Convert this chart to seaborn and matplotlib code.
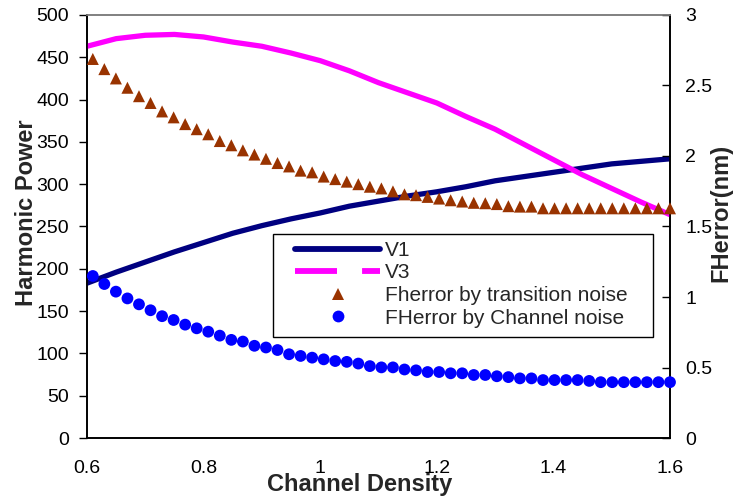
import numpy as np
import pandas as pd
import matplotlib
matplotlib.use("Agg")
import matplotlib.pyplot as plt
from matplotlib.lines import Line2D
from matplotlib.patches import Rectangle
import seaborn as sns

sns.set_theme(style="white")
plt.rcParams['font.family'] = ['Liberation Sans', 'DejaVu Sans']

# ---- data ----
line_x = [0.60, 0.65, 0.70, 0.75, 0.80, 0.85, 0.90, 0.95, 1.00, 1.05, 1.10,
          1.15, 1.20, 1.25, 1.30, 1.35, 1.40, 1.45, 1.50, 1.55, 1.60]
v1 = [183, 196, 208, 220, 231, 242, 251, 259, 266, 274, 280,
      286, 291, 297, 304, 309, 314, 319, 324, 327, 330]
v3 = [463, 472, 476, 477, 474, 468, 463, 455, 446, 434, 420,
      408, 396, 380, 365, 347, 329, 311, 295, 279, 264]

pt_x = list(np.round(np.linspace(0.61, 1.60, 51), 4))
fh_transition = [2.688, 2.616, 2.550, 2.484, 2.424, 2.376, 2.316, 2.274, 2.226, 2.190,
                 2.154, 2.106, 2.076, 2.040, 2.010, 1.980, 1.950, 1.926, 1.896, 1.884,
                 1.854, 1.836, 1.818, 1.800, 1.782, 1.770, 1.749, 1.728, 1.722, 1.710,
                 1.698, 1.686, 1.677, 1.668, 1.665, 1.659, 1.644, 1.641, 1.641, 1.629,
                 1.629, 1.629, 1.629, 1.629, 1.629, 1.629, 1.629, 1.629, 1.629, 1.629,
                 1.629]
fh_channel = [1.149, 1.092, 1.038, 0.990, 0.948, 0.906, 0.864, 0.837, 0.804, 0.778,
              0.754, 0.726, 0.696, 0.684, 0.654, 0.642, 0.624, 0.594, 0.582, 0.570,
              0.558, 0.546, 0.540, 0.528, 0.510, 0.501, 0.501, 0.486, 0.480, 0.468,
              0.468, 0.459, 0.459, 0.447, 0.447, 0.438, 0.432, 0.423, 0.423, 0.411,
              0.411, 0.411, 0.411, 0.405, 0.396, 0.396, 0.396, 0.396, 0.396, 0.396,
              0.396]

left_ticks = [0, 50, 100, 150, 200, 250, 300, 350, 400, 450, 500]
right_ticks = [0, 0.5, 1, 1.5, 2, 2.5, 3]
x_ticks = [0.6, 0.8, 1.0, 1.2, 1.4, 1.6]
x_ticklabels = ["0.6", "0.8", "1", "1.2", "1.4", "1.6"]
right_ticklabels = ["0", "0.5", "1", "1.5", "2", "2.5", "3"]

lines_df = pd.DataFrame({"x": line_x, "V1": v1, "V3": v3})
pts_df = pd.DataFrame({"x": pt_x, "trans": fh_transition, "chan": fh_channel})

NAVY = "#000080"
MAGENTA = "#FF00FF"
BROWN = "#993300"
BLUE = "#0000FF"

fig = plt.figure(figsize=(7.34, 4.99), dpi=100)
ax = fig.add_axes([0.1185, 0.1222, 0.7943, 0.8478])
ax2 = ax.twinx()

sns.lineplot(data=lines_df, x="x", y="V1", ax=ax, color=NAVY, lw=3.8, zorder=3)
sns.lineplot(data=lines_df, x="x", y="V3", ax=ax, color=MAGENTA, lw=3.8, zorder=3)
sns.scatterplot(data=pts_df, x="x", y="trans", ax=ax2, marker="^", color=BROWN,
                s=75, edgecolor="none", zorder=4, clip_on=False)
sns.scatterplot(data=pts_df, x="x", y="chan", ax=ax2, marker="o", color=BLUE,
                s=72, edgecolor="none", zorder=4, clip_on=False)

ax.set_xlim(0.6, 1.6)
ax.set_ylim(0, 500)
ax2.set_ylim(0, 3)
ax.set_xticks(x_ticks)
ax.set_xticklabels(x_ticklabels)
ax.set_yticks(left_ticks)
ax2.set_yticks(right_ticks)
ax2.set_yticklabels(right_ticklabels)

ax.tick_params(axis="x", direction="out", length=6, width=1, pad=10, labelsize=14, colors="black")
ax.tick_params(axis="y", direction="out", length=6, width=1, pad=7, labelsize=14, colors="black")
ax2.tick_params(axis="y", direction="in", length=6, width=1, pad=11, labelsize=14, colors="black")

for a in (ax, ax2):
    for s in ("left", "bottom", "right"):
        a.spines[s].set_color("black")
        a.spines[s].set_linewidth(1.2)
    a.spines["top"].set_color("#808080")
    a.spines["top"].set_linewidth(1.2)

ax.set_xlabel("Channel Density", fontsize=17, fontweight="bold")
ax.set_ylabel("Harmonic Power", fontsize=17, fontweight="bold")
ax2.set_ylabel("FHerror(nm)", fontsize=17, fontweight="bold")
ax.xaxis.set_label_coords(0.468, -0.083)
ax.yaxis.set_label_coords(-0.084, 0.532)
ax2.yaxis.set_label_coords(1.067, 0.532)

# legend frame (drawn as a box behind the legend entries)
frame = Rectangle((273 / 734, (499 - 337) / 499), 380 / 734, 103 / 499,
                  transform=fig.transFigure, facecolor="white", edgecolor="black",
                  linewidth=1.0, zorder=9, clip_on=False)
ax2.add_patch(frame)

handles = [
    Line2D([], [], color=NAVY, lw=4.2, solid_capstyle="round"),
    Line2D([], [], color=MAGENTA, lw=4.2, dashes=(7.2, 4.3), dash_capstyle="butt"),
    Line2D([], [], color=BROWN, marker="^", ls="none", markersize=8.5, markeredgewidth=0),
    Line2D([], [], color=BLUE, marker="o", ls="none", markersize=8.5, markeredgewidth=0),
]
labels = ["V1", "V3", "Fherror by transition noise", "FHerror by Channel noise"]
leg = ax2.legend(handles, labels, loc="upper left", bbox_to_anchor=(0.3568, 0.466),
                 frameon=False, fontsize=15,
                 handlelength=4.1, handletextpad=0.2, labelspacing=0.17,
                 borderpad=0, borderaxespad=0)
leg.set_zorder(10)

fig.savefig("out.png", dpi=100)
